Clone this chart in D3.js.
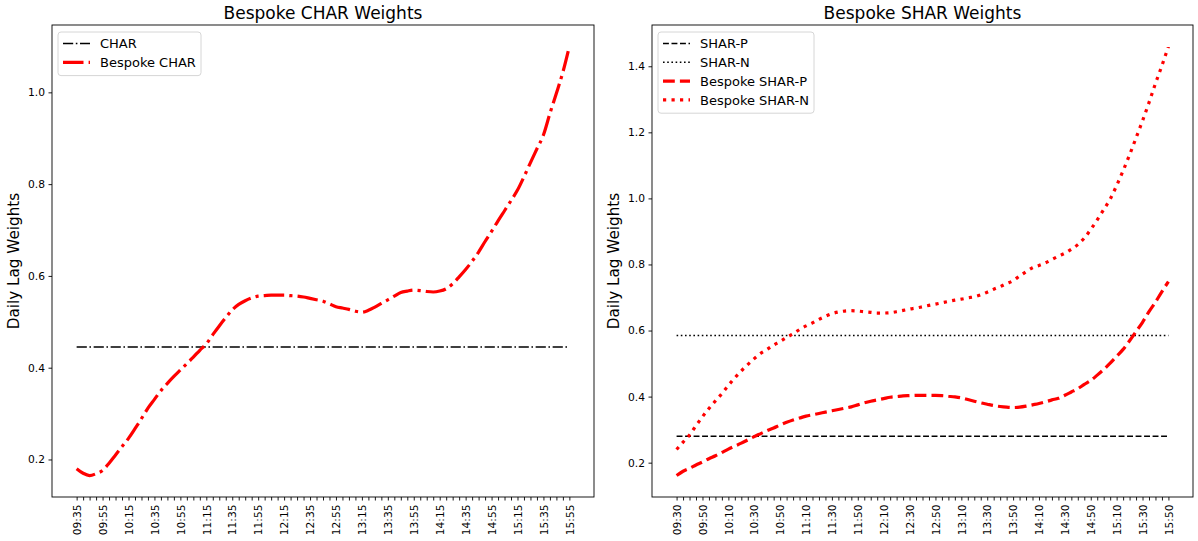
<!DOCTYPE html>
<html lang="en">
<head>
<meta charset="UTF-8">
<title>Bespoke weights</title>
<style>
  body { margin: 0; background: #fff; }
  svg text { font-family: "DejaVu Sans", sans-serif; fill: #000; }
</style>
</head>
<body>
<div id="chart"></div>
<script src="https://cdn.jsdelivr.net/npm/d3@7"></script>
<script>
// ---- data (5 minute steps) ----
const charStart = '09:35', charEnd = '15:55'
const sharStart = '09:30', sharEnd = '15:50'

const charTickLabels = ['09:35','09:55','10:15','10:35','10:55','11:15','11:35','11:55','12:15','12:35',
  '12:55','13:15','13:35','13:55','14:15','14:35','14:55','15:15','15:35','15:55']
const sharTickLabels = ['09:30','09:50','10:10','10:30','10:50','11:10','11:30','11:50','12:10','12:30',
  '12:50','13:10','13:30','13:50','14:10','14:30','14:50','15:10','15:30','15:50']

const charFlat = 0.445
const sharPFlat = 0.28
const sharNFlat = 0.585

const bespokeChar = [0.180,0.170,0.165,0.169,0.176,0.192,0.210,0.228,0.246,0.267,
  0.289,0.312,0.331,0.350,0.366,0.381,0.395,0.409,0.423,0.438,
  0.452,0.472,0.491,0.509,0.526,0.538,0.546,0.552,0.556,0.557,
  0.558,0.558,0.558,0.557,0.556,0.554,0.551,0.548,0.545,0.539,
  0.533,0.530,0.527,0.523,0.521,0.525,0.532,0.540,0.548,0.556,
  0.564,0.567,0.569,0.568,0.566,0.565,0.567,0.572,0.583,0.598,
  0.614,0.632,0.652,0.675,0.697,0.720,0.742,0.764,0.787,0.816,
  0.847,0.877,0.907,0.954,0.998,1.044,1.100]

const bespokeSharP = [0.161,0.174,0.183,0.193,0.202,0.212,0.221,0.231,0.241,0.250,
  0.259,0.269,0.279,0.288,0.297,0.305,0.314,0.322,0.329,0.335,
  0.341,0.345,0.349,0.353,0.357,0.361,0.365,0.369,0.375,0.381,
  0.386,0.390,0.394,0.398,0.400,0.402,0.403,0.404,0.404,0.404,
  0.404,0.403,0.401,0.399,0.396,0.391,0.386,0.381,0.377,0.373,
  0.370,0.368,0.367,0.368,0.371,0.375,0.379,0.384,0.390,0.395,
  0.404,0.414,0.424,0.437,0.449,0.465,0.482,0.501,0.522,0.543,
  0.569,0.597,0.625,0.657,0.686,0.718,0.748]

const bespokeSharN = [0.240,0.262,0.284,0.312,0.339,0.364,0.387,0.409,0.434,0.457,
  0.478,0.497,0.515,0.531,0.543,0.556,0.567,0.579,0.590,0.603,
  0.614,0.623,0.634,0.643,0.651,0.656,0.659,0.660,0.659,0.657,
  0.655,0.653,0.653,0.654,0.657,0.661,0.665,0.668,0.672,0.676,
  0.680,0.684,0.688,0.692,0.695,0.699,0.702,0.708,0.716,0.725,
  0.733,0.742,0.751,0.765,0.778,0.790,0.797,0.805,0.815,0.825,
  0.834,0.846,0.860,0.880,0.906,0.935,0.966,0.998,1.039,1.084,
  1.132,1.183,1.235,1.290,1.348,1.402,1.460]

// ---- drawing ----
const width = 1198, height = 541
const svg = d3.select('#chart').append('svg')
  .attr('width', width).attr('height', height)

const parse = d3.timeParse('%H:%M')
const fmt = d3.timeFormat('%H:%M')
const times = (a, b) => d3.timeMinute.every(5).range(parse(a), d3.timeMinute.offset(parse(b), 1)).map(fmt)

const dashes = {
  dashdotThin: '10.2,2.6,1.6,2.6', dashdotThick: '20.5,5.1,3.2,5.1',
  dashedThin: '5.9,2.6', dashedThick: '11.8,5.1',
  dottedThin: '1.6,2.6', dottedThick: '3.2,5.3'
}

function panel(opt) {
  const {left, right, top, bottom} = opt
  const n = opt.cats.length
  const g = svg.append('g')

  const x = d3.scaleLinear()
    .domain([-(n - 1) * 0.05, (n - 1) * 1.05])
    .range([left, right])

  let all = []
  opt.series.forEach(s => all = all.concat(s.values ? s.values : [s.flat]))
  const [lo, hi] = d3.extent(all)
  const pad = (hi - lo) * 0.05
  const y = d3.scaleLinear().domain([lo - pad, hi + pad]).range([bottom, top])

  // y axis
  const ya = g.append('g').attr('transform', `translate(${left},0)`)
    .call(d3.axisLeft(y).tickValues(opt.yTicks).tickFormat(d3.format('.1f')).tickSize(3.5).tickPadding(3.5))
  ya.select('.domain').remove()
  ya.selectAll('line').attr('stroke', '#000').attr('stroke-width', 0.9)
  ya.selectAll('text').style('font-size', '10.7px').style('font-family', '"DejaVu Sans"')

  // x axis: a tick at every bar, a label every 4th
  const xa = g.append('g').attr('transform', `translate(0,${bottom})`)
    .call(d3.axisBottom(x).tickValues(d3.range(n)).tickSize(3.5)
      .tickFormat(i => i % 4 === 0 ? opt.tickLabels[i / 4] : ''))
  xa.select('.domain').remove()
  xa.selectAll('line').attr('stroke', '#000').attr('stroke-width', 0.9)
  xa.selectAll('text')
    .attr('x', -7.5).attr('y', 0).attr('dy', '0.35em')
    .attr('transform', 'rotate(-90)')
    .style('text-anchor', 'end')
    .style('font-size', '10.7px').style('font-family', '"DejaVu Sans"')

  const line = d3.line().x((d, i) => x(i)).y(d => y(d)).curve(d3.curveMonotoneX)

  opt.series.forEach(s => {
    const vals = s.values ? s.values : opt.cats.map(() => s.flat)
    g.append('path')
      .attr('d', line(vals))
      .attr('fill', 'none')
      .attr('stroke', s.color)
      .attr('stroke-width', s.width)
      .attr('stroke-dasharray', s.dash)
  })

  // frame
  g.append('rect')
    .attr('x', left).attr('y', top)
    .attr('width', right - left).attr('height', bottom - top)
    .attr('fill', 'none').attr('stroke', '#000').attr('stroke-width', 0.9)

  // title + y label
  g.append('text')
    .attr('x', (left + right) / 2).attr('y', top - 6)
    .attr('text-anchor', 'middle')
    .style('font-size', '17px')
    .text(opt.title)

  g.append('text')
    .attr('transform', `translate(${left - 33},${(top + bottom) / 2}) rotate(-90)`)
    .attr('text-anchor', 'middle')
    .style('font-size', '15.2px')
    .text('Daily Lag Weights')

  // legend
  const lg = g.append('g').attr('transform', `translate(${left + 6},${top + 7})`)
  const rowH = 18.8
  lg.append('rect')
    .attr('width', opt.legendW).attr('height', opt.series.length * rowH + 6)
    .attr('rx', 3)
    .attr('fill', '#fff').attr('fill-opacity', 0.8)
    .attr('stroke', '#d6d6d6').attr('stroke-width', 1)
  opt.series.forEach((s, i) => {
    const cy = 11.5 + i * rowH
    lg.append('line')
      .attr('x1', 5).attr('x2', 32).attr('y1', cy).attr('y2', cy)
      .attr('stroke', s.color).attr('stroke-width', s.width)
      .attr('stroke-dasharray', s.dash)
    lg.append('text')
      .attr('x', 42).attr('y', cy).attr('dy', '0.36em')
      .style('font-size', '13px')
      .text(s.name)
  })
}

panel({
  left: 52, right: 594, top: 25, bottom: 497,
  cats: times(charStart, charEnd),
  tickLabels: charTickLabels,
  yTicks: [0.2, 0.4, 0.6, 0.8, 1.0],
  title: 'Bespoke CHAR Weights',
  legendW: 143,
  series: [
    {name: 'CHAR', flat: charFlat, color: '#000', width: 1.6, dash: dashes.dashdotThin},
    {name: 'Bespoke CHAR', values: bespokeChar, color: '#ff0000', width: 3.2, dash: dashes.dashdotThick}
  ]
})

panel({
  left: 652, right: 1193, top: 25, bottom: 497,
  cats: times(sharStart, sharEnd),
  tickLabels: sharTickLabels,
  yTicks: [0.2, 0.4, 0.6, 0.8, 1.0, 1.2, 1.4],
  title: 'Bespoke SHAR Weights',
  legendW: 156,
  series: [
    {name: 'SHAR-P', flat: sharPFlat, color: '#000', width: 1.6, dash: dashes.dashedThin},
    {name: 'SHAR-N', flat: sharNFlat, color: '#000', width: 1.6, dash: dashes.dottedThin},
    {name: 'Bespoke SHAR-P', values: bespokeSharP, color: '#ff0000', width: 3.2, dash: dashes.dashedThick},
    {name: 'Bespoke SHAR-N', values: bespokeSharN, color: '#ff0000', width: 3.2, dash: dashes.dottedThick}
  ]
})
</script>
</body>
</html>
